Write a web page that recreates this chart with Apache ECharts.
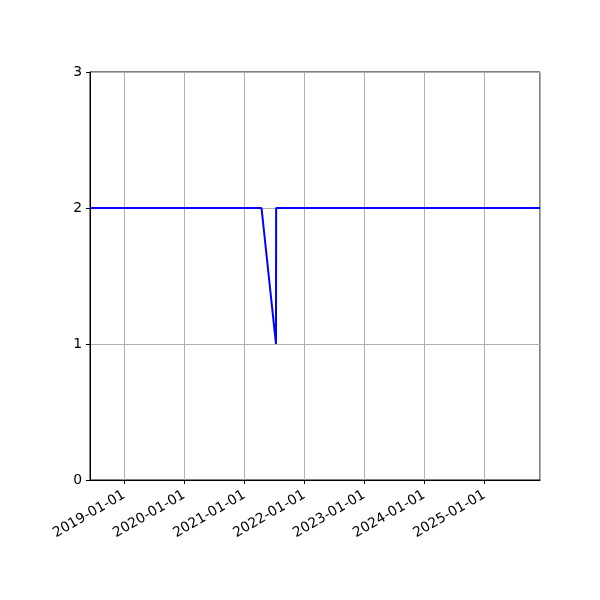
<!DOCTYPE html>
<html>
<head>
<meta charset="utf-8">
<script src="https://cdn.jsdelivr.net/npm/echarts@6/dist/echarts.min.js"></script>
<style>html,body{margin:0;padding:0;background:#fff}#c{width:600px;height:600px}</style>
</head>
<body>
<div id="c"></div>
<script>
var dates = ['2018-06-07', '2021-04-16', '2021-07-13', '2021-07-14', '2025-12-06'];
var values = [2, 2, 1, 2, 2];
var yTicks = [0, 1, 2, 3];
var xMin = '2018-06-07';
var xMax = '2025-12-06';

var chart = echarts.init(document.getElementById('c'), null, {renderer: 'canvas'});
var YEAR = 365 * 24 * 3600 * 1000;
chart.setOption({
  animation: false,
  grid: {left: 90, right: 60, top: 72, bottom: 120, show: true, borderColor: '#000', borderWidth: 1, backgroundColor: 'transparent'},
  xAxis: {
    type: 'time',
    min: xMin,
    max: xMax,
    minInterval: YEAR,
    maxInterval: YEAR * 1.01,
    axisLine: {show: true, lineStyle: {color: '#000', width: 1}},
    axisTick: {show: true, inside: false, length: 4, lineStyle: {color: '#000'}},
    splitLine: {show: true, lineStyle: {color: '#b0b0b0', width: 1}},
    axisLabel: {
      rotate: 30,
      color: '#000',
      fontFamily: 'DejaVu Sans',
      fontSize: 13.9,
      margin: 14,
      showMinLabel: false,
      showMaxLabel: false,
      formatter: '{yyyy}-{MM}-{dd}'
    }
  },
  yAxis: {
    type: 'value',
    min: yTicks[0],
    max: yTicks[yTicks.length - 1],
    interval: 1,
    axisLine: {show: true, lineStyle: {color: '#000', width: 1}},
    axisTick: {show: true, inside: false, length: 4, lineStyle: {color: '#000'}},
    splitLine: {show: true, lineStyle: {color: '#b0b0b0', width: 1}},
    axisLabel: {color: '#000', fontFamily: 'DejaVu Sans', fontSize: 13.9, margin: 8}
  },
  series: [{
    type: 'line',
    data: dates.map(function (d, i) { return [d, values[i]]; }),
    showSymbol: false,
    symbol: 'none',
    lineStyle: {color: '#0000ff', width: 2},
    itemStyle: {color: '#0000ff'}
  }]
});
</script>
</body>
</html>
